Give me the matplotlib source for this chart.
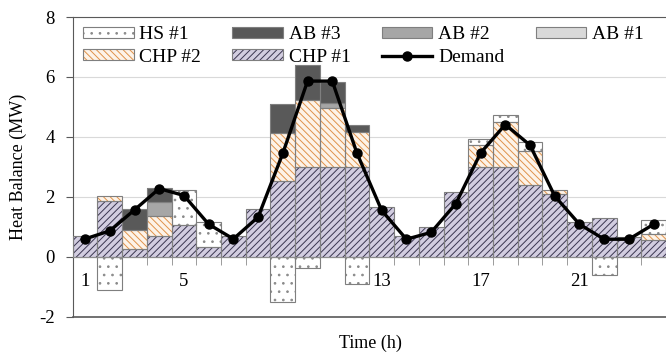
import numpy as np
import matplotlib
matplotlib.use("Agg")
import matplotlib.pyplot as plt
import matplotlib.patches as mpatches
from matplotlib.lines import Line2D
from matplotlib.legend_handler import HandlerTuple

plt.rcParams['font.family'] = ['Liberation Serif', 'DejaVu Serif']
plt.rcParams['hatch.linewidth'] = 0.7
plt.rcParams['axes.unicode_minus'] = False

# hourly heat balance (MW)
hours = np.arange(1, 25)
chp1 = [0.70, 1.86, 0.24, 0.68, 1.06, 0.32, 0.70, 1.60, 2.51, 3.00, 3.00, 3.00,
        1.64, 0.68, 0.98, 2.15, 3.00, 3.00, 2.40, 2.10, 1.15, 1.28, 0.67, 0.54]
chp2 = [0.00, 0.18, 0.65, 0.69, 0.00, 0.00, 0.00, 0.00, 1.62, 2.23, 1.95, 1.15,
        0.00, 0.00, 0.00, 0.00, 0.71, 1.49, 1.14, 0.11, 0.00, 0.00, 0.00, 0.21]
ab1 = [0.0] * 24
ab2 = [0.00, 0.00, 0.00, 0.46, 0.00, 0.00, 0.00, 0.00, 0.00, 0.00, 0.19, 0.00,
       0.00, 0.00, 0.00, 0.00, 0.00, 0.00, 0.00, 0.00, 0.00, 0.00, 0.00, 0.00]
ab3 = [0.00, 0.00, 0.69, 0.45, 0.00, 0.00, 0.00, 0.00, 0.97, 1.17, 0.70, 0.23,
       0.00, 0.00, 0.00, 0.00, 0.00, 0.00, 0.00, 0.00, 0.00, 0.00, 0.00, 0.00]
# storage: positive = discharge, negative = charge
hs1 = [0.00, -1.10, 0.00, 0.00, 1.18, 0.85, 0.00, 0.00, -1.51, -0.39, 0.00, -0.92,
       0.00, 0.00, 0.00, 0.00, 0.23, 0.23, 0.27, 0.00, 0.00, -0.61, 0.00, 0.46]
demand = [0.59, 0.86, 1.56, 2.27, 2.04, 1.08, 0.59, 1.32, 3.45, 5.86, 5.86, 3.45,
          1.54, 0.58, 0.81, 1.77, 3.46, 4.41, 3.72, 2.02, 1.08, 0.58, 0.58, 1.08]
xtick_hours = [1, 5, 9, 13, 17, 21]

edge = '#7f7f7f'
styles = {
    'CHP #1': dict(fc='#d2cde0', hc='#3a3550', hatch='/////'),
    'CHP #2': dict(fc='#fdf3e8', hc='#e0924a', hatch='\\\\\\\\\\'),
    'AB #1': dict(fc='#d9d9d9', hc=None, hatch=None),
    'AB #2': dict(fc='#a6a6a6', hc=None, hatch=None),
    'AB #3': dict(fc='#595959', hc=None, hatch=None),
    'HS #1': dict(fc='white', hc='#8a8a8a', hatch='..'),
}

fig = plt.figure(figsize=(6.66, 3.56), dpi=100)
left, bottom = 72.7 / 666, 39.5 / 356
ax = fig.add_axes([left, bottom, 1 - left, 299.5 / 356])

# stacked supply bars (positive part)
base = np.zeros(24)
for name, vals in [('CHP #1', chp1), ('CHP #2', chp2), ('AB #1', ab1),
                   ('AB #2', ab2), ('AB #3', ab3)]:
    v = np.array(vals)
    st = styles[name]
    if (v > 0).any():
        m = v > 0
        ax.bar(hours[m], v[m], bottom=base[m], width=1.0, color=st['fc'],
               hatch=st['hatch'], edgecolor=st['hc'] or st['fc'], linewidth=0,
               zorder=2)
        ax.bar(hours[m], v[m], bottom=base[m], width=1.0, fill=False, edgecolor=edge,
               linewidth=0.8, zorder=3)
    base = base + v

# heat storage: discharge on top of the stack, charge below zero
hs = np.array(hs1)
pos = hs > 0
neg = hs < 0
for m, b in [(pos, base), (neg, np.zeros(24))]:
    ax.bar(hours[m], hs[m], bottom=b[m], width=1.0, color='white', hatch='..',
           edgecolor=styles['HS #1']['hc'], linewidth=0, zorder=2)
    ax.bar(hours[m], hs[m], bottom=b[m], width=1.0, fill=False, edgecolor=edge,
           linewidth=0.8, zorder=3)

ax.plot(hours, demand, color='black', linewidth=2.4, marker='o', markersize=6.5,
        zorder=5)

ax.set_xlim(0.5, 0.5 + (666 - 72.7) / 24.95)
ax.set_ylim(-2, 8)
ax.set_yticks([-2, 0, 2, 4, 6, 8])
ax.yaxis.grid(True, color='#d9d9d9', linewidth=0.8)
ax.set_axisbelow(True)

ax.spines['bottom'].set_position(('data', 0))
ax.spines['bottom'].set_color('#8c8c8c')
ax.spines['bottom'].set_zorder(4)
ax.spines['left'].set_color('#595959')
ax.spines['top'].set_color('#595959')
ax.spines['right'].set_visible(False)
ax.axhline(-2, color='#595959', linewidth=1.2, clip_on=False)

ax.set_xticks(xtick_hours)
ax.set_xticklabels([str(h) for h in xtick_hours])
ax.set_xticks(np.arange(0.5, 25, 1), minor=True)
ax.tick_params(axis='x', which='major', length=0, pad=12, labelsize=13.5)
ax.tick_params(axis='x', which='minor', length=6, color='#8c8c8c', direction='out')
ax.tick_params(axis='y', length=5, pad=8, color='#595959', labelsize=13.5)

ax.set_ylabel('Heat Balance (MW)', fontsize=13)
ax.yaxis.set_label_coords((27 - 72.7) / 593.3, 0.5)
ax.set_xlabel('Time (h)', fontsize=13)
ax.xaxis.set_label_coords((370 - 72.7) / 593.3, -0.06)


def swatch(name):
    st = styles[name]
    filled = mpatches.Patch(facecolor=st['fc'], hatch=st['hatch'],
                            edgecolor=st['hc'] or st['fc'], linewidth=0)
    outline = mpatches.Patch(fill=False, edgecolor=edge, linewidth=0.8)
    return (filled, outline)


demand_handle = Line2D([], [], color='black', linewidth=2.4, marker='o', markersize=6.5)
order = ['HS #1', 'CHP #2', 'AB #3', 'CHP #1', 'AB #2', 'Demand', 'AB #1']
handles = [demand_handle if n == 'Demand' else swatch(n) for n in order]
ax.legend(handles, order, ncols=4, loc='upper left',
          bbox_to_anchor=((83 - 72.7) / 593.3, 0.97), frameon=False, fontsize=14,
          handlelength=2.6, handleheight=0.5, handletextpad=0.3, columnspacing=1.6,
          labelspacing=0.3, borderpad=0, borderaxespad=0,
          handler_map={tuple: HandlerTuple(ndivide=1)})

fig.savefig('out.png', dpi=100)
